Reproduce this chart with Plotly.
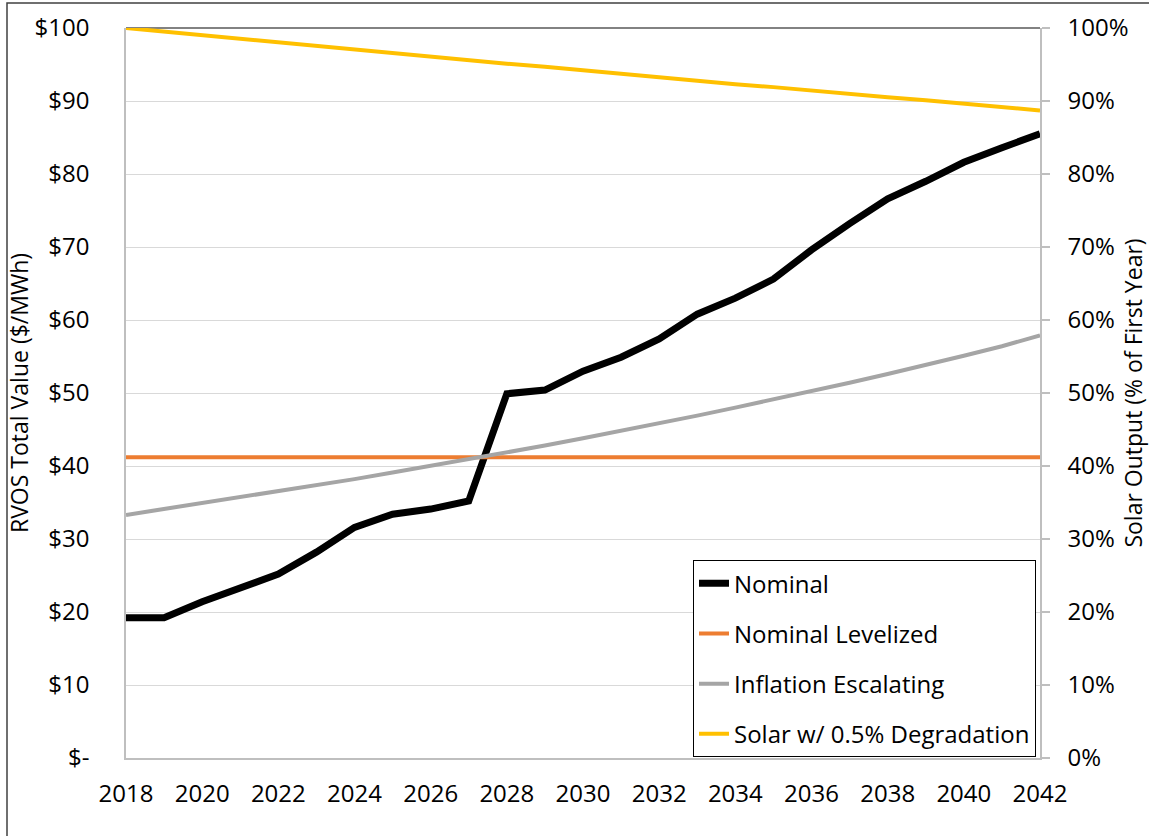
import plotly.graph_objects as go

years = list(range(2018, 2043))
nominal = [19.2, 19.2, 21.4, 23.3, 25.2, 28.2, 31.6, 33.4, 34.1, 35.2, 49.9, 50.4, 53.0,
           54.9, 57.4, 60.8, 63.0, 65.6, 69.6, 73.2, 76.6, 79.0, 81.6, 83.6, 85.5]
levelized = [41.2] * 25
inflation = [33.3, 34.1, 34.9, 35.7, 36.5, 37.3, 38.2, 39.1, 40.0, 40.9, 41.9, 42.8, 43.8,
             44.8, 45.9, 46.9, 48.0, 49.1, 50.3, 51.4, 52.6, 53.8, 55.1, 56.4, 57.9]
solar_pct = [100, 99.5, 99.0, 98.5, 98.0, 97.5, 97.0, 96.6, 96.1, 95.6, 95.1, 94.7, 94.2,
             93.7, 93.3, 92.8, 92.3, 91.9, 91.4, 91.0, 90.5, 90.1, 89.6, 89.2, 88.7]

left_ticks = list(range(0, 101, 10))
left_text = ["$-"] + [f"${v}" for v in left_ticks[1:]]
right_ticks = list(range(0, 101, 10))
right_text = [f"{v}%" for v in right_ticks]
x_ticks = list(range(2018, 2043, 2))

FONT = "Open Sans, sans-serif"

fig = go.Figure()
fig.add_trace(go.Scatter(x=years, y=nominal, name="Nominal", mode="lines",
                         line=dict(color="#000000", width=7), legendgroup="a"))
fig.add_trace(go.Scatter(x=years, y=levelized, name="Nominal Levelized", mode="lines",
                         line=dict(color="#ED7D31", width=4), legendgroup="b"))
fig.add_trace(go.Scatter(x=years, y=inflation, name="Inflation Escalating", mode="lines",
                         line=dict(color="#A5A5A5", width=4), legendgroup="c"))
fig.add_trace(go.Scatter(x=years, y=solar_pct, name="Solar w/ 0.5% Degradation", mode="lines",
                         line=dict(color="#FFC000", width=4), yaxis="y2", legendgroup="d"))

fig.update_layout(
    width=1149, height=836,
    margin=dict(l=126, r=109, t=28, b=78, autoexpand=False),
    paper_bgcolor="white", plot_bgcolor="white",
    font=dict(family=FONT, size=24, color="#000000"),
    showlegend=True,
    legend=dict(x=(693 - 126) / 914, y=0.271, xanchor="left", yanchor="top",
                bgcolor="white", bordercolor="#000000", borderwidth=1,
                font=dict(size=24), tracegroupgap=16, itemwidth=30,
                traceorder="grouped"),
    xaxis=dict(range=[2018, 2042], tickvals=x_ticks, showgrid=False, zeroline=False,
               showline=True, linecolor="#BFBFBF", linewidth=1.5,
               ticks="", ticklabelstandoff=13, automargin=False),
    yaxis=dict(range=[0, 100], tickvals=left_ticks, ticktext=left_text,
               showgrid=True, gridcolor="#D9D9D9", gridwidth=1, zeroline=False,
               showline=True, linecolor="#BFBFBF", linewidth=1.5,
               ticks="", ticklabelstandoff=30, automargin=False,
               title=dict(text="RVOS Total Value ($/MWh)", font=dict(size=23), standoff=0)),
    yaxis2=dict(range=[0, 100], tickvals=right_ticks, ticktext=right_text,
                overlaying="y", side="right", showgrid=False, zeroline=False,
                showline=True, linecolor="#BFBFBF", linewidth=1.5,
                ticks="outside", ticklen=8, tickcolor="#BFBFBF", tickwidth=1.5,
                ticklabelstandoff=13, automargin=False,
                title=dict(text="Solar Output (% of First Year)", font=dict(size=23), standoff=0)),
    shapes=[
        dict(type="line", xref="paper", yref="paper", x0=0, x1=1, y0=1, y1=1,
             line=dict(color="#595959", width=1.5), layer="below"),
        dict(type="rect", xref="paper", yref="paper",
             x0=(7 - 126) / 914, x1=1.3, y0=-0.3, y1=(758 - 3) / 730,
             line=dict(color="#404040", width=1.5), layer="below"),
    ],
)

fig.write_html("out.html")
